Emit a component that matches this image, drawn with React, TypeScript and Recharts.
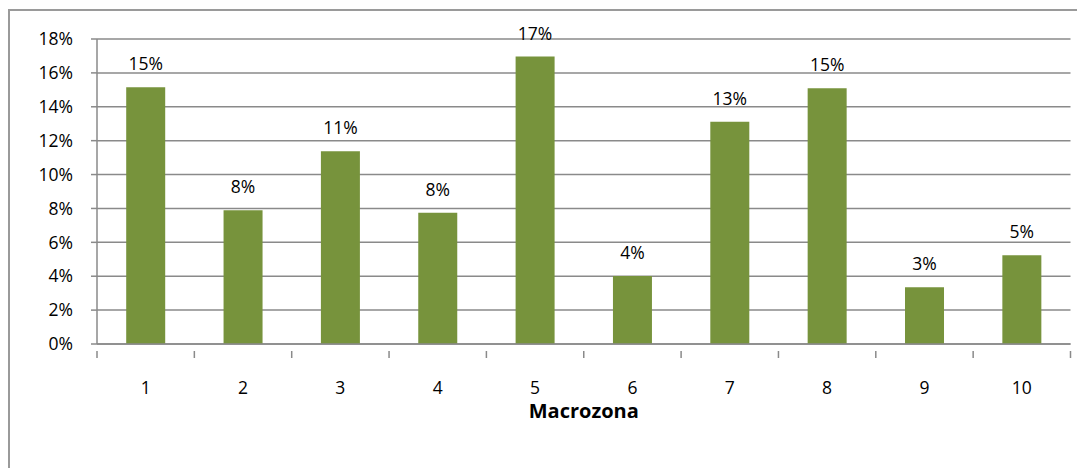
import React from 'react';
import { BarChart, Bar, XAxis, YAxis, CartesianGrid, LabelList } from 'recharts';

const zones = ['1', '2', '3', '4', '5', '6', '7', '8', '9', '10'];
const shares = [0.1515, 0.079, 0.1138, 0.0774, 0.1696, 0.0402, 0.1312, 0.151, 0.0335, 0.0524];
const yTicks = [0, 0.02, 0.04, 0.06, 0.08, 0.1, 0.12, 0.14, 0.16, 0.18];

const data = zones.map((z, i) => ({ zone: z, share: shares[i] }));

const W = 1075;
const H = 457;
const LEFT = 87;
const RIGHT = 14.5;
const BAND = (W - LEFT - RIGHT) / zones.length;
const FONT = '"Open Sans", sans-serif';
const GRAY = '#8a8a8a';
const FS = 17.5;

const pct = (v: number) => `${Math.round(v * 100)}%`;

const XTick = (props: any) => {
  const { x, y, payload, index } = props;
  const left = x - BAND / 2;
  return (
    <g>
      <line x1={left} x2={left} y1={y - 1} y2={y + 6} stroke={GRAY} strokeWidth={1.5} />
      {index === zones.length - 1 && (
        <line x1={x + BAND / 2} x2={x + BAND / 2} y1={y - 1} y2={y + 6} stroke={GRAY} strokeWidth={1.5} />
      )}
      <text x={x} y={y + 30} dy="0.71em" textAnchor="middle" fill="#000" fontSize={FS} fontFamily={FONT}>
        {payload.value}
      </text>
    </g>
  );
};

const App: React.FC = () => {
  return (
    <div
      style={{
        marginTop: 1,
        width: W,
        height: H,
        borderTop: '2px solid #9a9a9a',
        borderLeft: '2px solid #9a9a9a',
        background: '#fff',
        overflow: 'hidden',
      }}
    >
      <BarChart
        width={W}
        height={H}
        data={data}
        margin={{ top: 28, right: RIGHT, left: 0, bottom: 44 }}
        barCategoryGap="30%"
      >
        <CartesianGrid vertical={false} stroke={GRAY} strokeWidth={1.5} />
        <XAxis
          dataKey="zone"
          height={80}
          axisLine={{ stroke: GRAY, strokeWidth: 1.5 }}
          tickLine={false}
          tick={<XTick />}
          interval={0}
          label={({ viewBox }: any) => (
            <text
              x={viewBox.x + viewBox.width / 2}
              y={viewBox.y + 74}
              textAnchor="middle"
              fontSize={20}
              fontWeight="bold"
              fontFamily={FONT}
              fill="#000"
            >
              Macrozona
            </text>
          )}
        />
        <YAxis
          width={LEFT}
          domain={[0, 0.18]}
          ticks={yTicks}
          tickFormatter={pct}
          axisLine={{ stroke: GRAY, strokeWidth: 1.5 }}
          tickLine={{ stroke: GRAY, strokeWidth: 1.5 }}
          tickSize={6}
          tickMargin={18}
          tick={{ fill: '#000', fontSize: FS, fontFamily: FONT }}
        />
        <Bar dataKey="share" fill="#77933C" isAnimationActive={false}>
          <LabelList
            dataKey="share"
            position="top"
            offset={17}
            formatter={(v: any) => pct(Number(v))}
            style={{ fill: '#000', fontSize: FS, fontFamily: FONT }}
          />
        </Bar>
      </BarChart>
    </div>
  );
};

export default App;
